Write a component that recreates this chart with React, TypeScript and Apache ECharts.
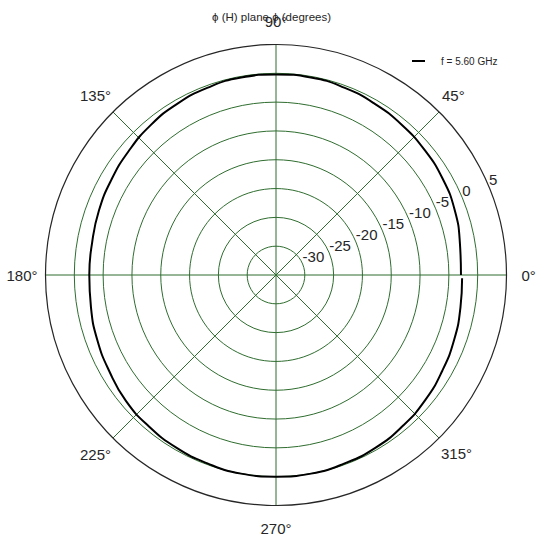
import React from "react";
import * as echarts from "echarts";

// ---------- data ----------
const angles = [0, 10, 20, 30, 40, 50, 60, 70, 80, 90, 100, 110, 120, 130, 140, 150, 160, 170,
  180, 190, 200, 210, 220, 230, 240, 250, 260, 270, 280, 290, 300, 310, 320, 330, 340, 350, 359];
const gainDb = [-2.9, -2.6, -2.0, -1.6, -1.3, -1.0, -0.7, -0.4, -0.2, -0.2, -0.2, -0.4, -0.7, -1.1, -1.6, -2.0, -2.3, -2.6,
  -2.6, -2.4, -2.0, -1.6, -1.0, -0.7, -0.4, -0.2, 0.0, 0.0, 0.0, -0.2, -0.4, -0.8, -1.2, -1.7, -2.1, -2.5, -2.7];
const angleTicks = [0, 45, 90, 135, 180, 225, 270, 315];
const seriesName = "f = 5.60 GHz";
const titleText = "\u03d5 (H) plane \u03d5 (degrees)";
const rMin = -35;
const rMax = 5;

const GRID = "#2f6d2f";
const TEXT = "#262626";
const FONT = "Liberation Sans, Arial, sans-serif";

// padding [top, right, bottom, left] so each angle label sits centred just outside the rim
const labelPad: Record<number, number[]> = {
  0: [0, 0, 0, 15],
  45: [0, 0, 9, 3],
  90: [0, 0, 16, 0],
  135: [0, 2, 9, 0],
  180: [0, 8, 0, 0],
  225: [9, 2, 0, 0],
  270: [15, 0, 0, 0],
  315: [8, 0, 0, 2],
};

export default function App() {
  const ref = React.useRef<HTMLDivElement>(null);

  React.useEffect(() => {
    const el = ref.current;
    if (!el) return;
    const chart = echarts.init(el, undefined, { renderer: "svg" });
    const center = [276, 275];
    const radius = 230.5;
    const ringColors = [...Array(8).fill(GRID), "rgba(0,0,0,0)"];
    const rich: Record<string, any> = {};
    angleTicks.forEach(a => {
      rich["a" + a] = { padding: labelPad[a], fontSize: 15, color: TEXT, fontFamily: FONT };
    });

    chart.setOption({
      animation: false,
      backgroundColor: "#fff",
      title: {
        text: titleText,
        left: "center",
        top: 6,
        textStyle: { fontSize: 11.5, fontWeight: "normal", color: TEXT, fontFamily: FONT },
      },
      legend: {
        left: 407,
        top: 51,
        itemWidth: 13,
        itemHeight: 2,
        icon: "rect",
        textStyle: { fontSize: 10, color: TEXT, fontFamily: FONT, padding: [0, 0, 0, 11] },
        data: [seriesName],
      },
      polar: [
        { center, radius },
        { center, radius },
      ],
      angleAxis: [
        {
          polarIndex: 0,
          type: "value",
          min: 0,
          max: 360,
          interval: 45,
          startAngle: 0,
          clockwise: false,
          axisLine: { show: true, lineStyle: { color: TEXT, width: 1.2 } },
          axisTick: { show: false },
          splitLine: { show: true, lineStyle: { color: GRID, width: 1 } },
          axisLabel: {
            showMaxLabel: false,
            margin: 0,
            fontSize: 15,
            color: TEXT,
            fontFamily: FONT,
            formatter: (v: number) => `{a${v}|${v}\u00b0}`,
            rich,
          },
          z: 3,
        },
        {
          polarIndex: 1,
          type: "value",
          min: 0,
          max: 360,
          startAngle: 22.5,
          clockwise: false,
          axisLine: { show: false },
          axisTick: { show: false },
          splitLine: { show: false },
          axisLabel: { show: false },
        },
      ],
      radiusAxis: [
        {
          polarIndex: 0,
          type: "value",
          min: rMin,
          max: rMax,
          interval: 5,
          axisLine: { show: false },
          axisTick: { show: false },
          axisLabel: { show: false },
          splitLine: { show: true, lineStyle: { color: ringColors, width: 1 } },
        },
        {
          polarIndex: 1,
          type: "value",
          min: rMin,
          max: rMax,
          interval: 5,
          axisLine: { show: false },
          axisTick: { show: false },
          splitLine: { show: false },
          axisLabel: {
            showMinLabel: false,
            margin: 0,
            align: "left",
            verticalAlign: "bottom",
            fontSize: 15,
            color: TEXT,
            fontFamily: FONT,
          },
        },
      ],
      series: [
        {
          name: seriesName,
          type: "line",
          coordinateSystem: "polar",
          polarIndex: 0,
          showSymbol: false,
          smooth: true,
          lineStyle: { color: "#000", width: 2 },
          itemStyle: { color: "#000" },
          data: angles.map((a, i) => [gainDb[i], a]),
          z: 5,
        },
      ],
    });
    return () => chart.dispose();
  }, []);

  return (
    <div
      ref={ref}
      style={{ position: "fixed", left: 0, top: 0, width: 543, height: 543 }}
    />
  );
}
